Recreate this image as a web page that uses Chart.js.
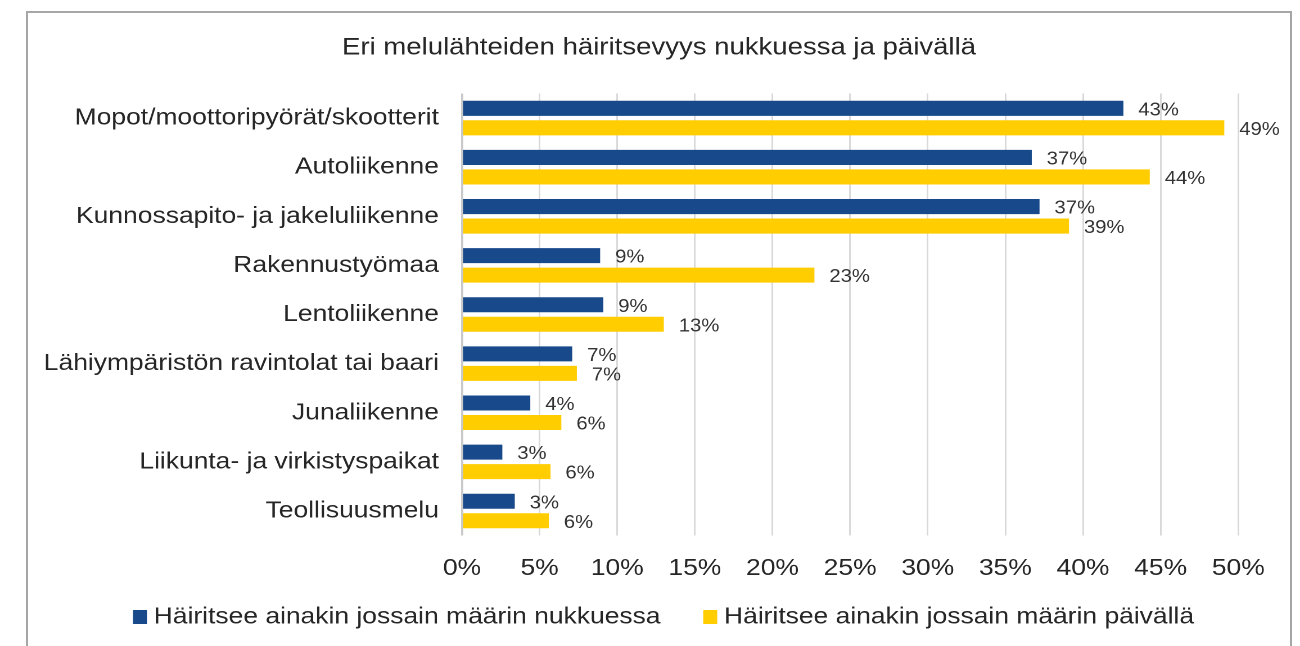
<!DOCTYPE html>
<html><head><meta charset="utf-8">
<script src="https://cdn.jsdelivr.net/npm/chart.js"></script>
<style>
html,body{margin:0;padding:0;background:#fff;width:1300px;height:646px;overflow:hidden}
#frame{position:absolute;left:26px;top:11px;width:1262px;height:700px;border:2px solid #a6a6a6;box-sizing:content-box}
#wrap{position:absolute;left:0;top:0;width:1156px;height:646px;transform:scaleX(1.124567);transform-origin:0 0}
canvas{display:block}
</style></head><body>
<div id="frame"></div>
<div id="wrap"><canvas id="c" width="1156" height="646" style="width:1156px;height:646px"></canvas></div>
<script>
const chartTitle = 'Eri melulähteiden häiritsevyys nukkuessa ja päivällä';
const categories = [
  'Mopot/moottoripyörät/skootterit',
  'Autoliikenne',
  'Kunnossapito- ja jakeluliikenne',
  'Rakennustyömaa',
  'Lentoliikenne',
  'Lähiympäristön ravintolat tai baari',
  'Junaliikenne',
  'Liikunta- ja virkistyspaikat',
  'Teollisuusmelu'
];
const seriesNames = ['Häiritsee ainakin jossain määrin nukkuessa', 'Häiritsee ainakin jossain määrin päivällä'];
const nightValues = [42.6, 36.7, 37.2, 8.9, 9.1, 7.1, 4.4, 2.6, 3.4];
const dayValues   = [49.1, 44.3, 39.1, 22.7, 13.0, 7.4, 6.4, 5.7, 5.6];
const xTickValues = [0, 5, 10, 15, 20, 25, 30, 35, 40, 45, 50];
const xTickLabels = ['0%', '5%', '10%', '15%', '20%', '25%', '30%', '35%', '40%', '45%', '50%'];

const FONT = "'Liberation Sans', Arial, sans-serif";
const TEXT = '#262626';
const BLUE = '#18498A';
const YELLOW = '#FFCD00';

const titlePlugin = {
  id: 'titleText',
  afterDraw(chart) {
    const c = chart.ctx;
    c.save();
    c.font = '24.5px ' + FONT;
    c.fillStyle = TEXT;
    c.textAlign = 'center';
    c.textBaseline = 'middle';
    c.fillText(chartTitle, 586, 47.5);
    c.restore();
  }
};

const legendPlugin = {
  id: 'legendBoxes',
  afterDraw(chart) {
    const c = chart.ctx;
    c.save();
    c.font = '23.5px ' + FONT;
    c.textBaseline = 'middle';
    c.textAlign = 'left';
    const boxW = 12.45, boxH = 14, gap = 6, itemGap = 38;
    const ds = chart.data.datasets;
    const widths = ds.map(d => c.measureText(d.label).width);
    let total = itemGap * (ds.length - 1);
    widths.forEach(w => total += boxW + gap + w);
    let x = 590 - total / 2;
    ds.forEach((d, i) => {
      c.fillStyle = d.backgroundColor;
      c.fillRect(x, 610, boxW, boxH);
      x += boxW + gap;
      c.fillStyle = TEXT;
      c.fillText(d.label, x, 617);
      x += widths[i] + itemGap;
    });
    c.restore();
  }
};

const valueLabelPlugin = {
  id: 'valueLabels',
  afterDatasetsDraw(chart) {
    const c = chart.ctx;
    c.save();
    c.font = '18px ' + FONT;
    c.fillStyle = '#333333';
    c.textAlign = 'left';
    c.textBaseline = 'middle';
    chart.data.datasets.forEach((d, di) => {
      const meta = chart.getDatasetMeta(di);
      meta.data.forEach((bar, i) => {
        c.fillText(Math.round(d.data[i]) + '%', bar.x + 13.3, bar.y + 2);
      });
    });
    c.restore();
  }
};

new Chart(document.getElementById('c'), {
  type: 'bar',
  data: {
    labels: categories,
    datasets: [
      { label: seriesNames[0], data: nightValues, backgroundColor: BLUE },
      { label: seriesNames[1], data: dayValues, backgroundColor: YELLOW }
    ]
  },
  options: {
    indexAxis: 'y',
    responsive: false,
    devicePixelRatio: 2,
    animation: false,
    layout: { padding: { top: 93.5, left: 0, right: 54.9, bottom: 60.4 } },
    datasets: { bar: { categoryPercentage: 0.794, barPercentage: 0.77 } },
    plugins: { legend: { display: false }, title: { display: false }, tooltip: { enabled: false } },
    scales: {
      x: {
        min: 0, max: 50,
        afterBuildTicks: s => { s.ticks = xTickValues.map(v => ({ value: v })); },
        ticks: {
          callback: v => xTickLabels[xTickValues.indexOf(v)],
          color: TEXT, font: { family: FONT, size: 23.5 }, padding: 19, maxRotation: 0
        },
        grid: {
          color: ctx => ctx.index === 0 ? '#c9c9c9' : '#d9d9d9',
          lineWidth: ctx => ctx.index === 0 ? 2 : 1.5,
          drawTicks: false
        },
        border: { display: false },
        afterFit: s => { s.height = 50; }
      },
      y: {
        ticks: { color: TEXT, font: { family: FONT, size: 23.5 }, padding: 12.5 },
        grid: { display: false },
        border: { display: false },
        afterFit: s => { s.width = 410.8; }
      }
    }
  },
  plugins: [titlePlugin, legendPlugin, valueLabelPlugin]
});
</script>
</body></html>
